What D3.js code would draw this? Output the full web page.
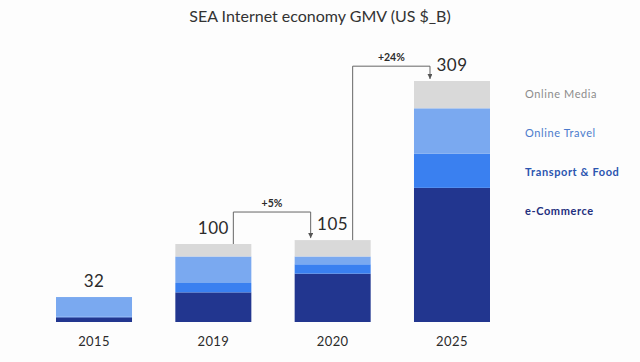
<!DOCTYPE html>
<html>
<head>
<meta charset="utf-8">
<script src="https://cdn.jsdelivr.net/npm/d3@7"></script>
<style>
  html, body { margin: 0; padding: 0; background: #fdfdfd; }
  svg { display: block; font-family: Lato, "Open Sans", sans-serif; }
</style>
</head>
<body>
<div class="canvas"></div>
<script>
// data (US $ billions)
const years = ['2015', '2019', '2020', '2025'];
const categories = ['e-Commerce', 'Transport & Food', 'Online Travel', 'Online Media'];
const eCommerce = [6, 38, 62, 172];
const transportFood = [1, 12, 12, 44];
const onlineTravel = [25, 34, 10, 58];
const onlineMedia = [0, 16, 21, 35];
const totals = [32, 100, 105, 309];
const growth = [
    { from: '2019', to: '2020', label: '+5%', level: 141 },
    { from: '2020', to: '2025', label: '+24%', level: 328 }
];

const WIDTH = 640;
const HEIGHT = 362;
const colors = ['#22368f', '#3a80f0', '#7aa9f0', '#d9d9d9'];
const legendColors = ['#1f2f7e', '#2b55b0', '#4b7bcc', '#8c8c8c'];

const rows = years.map((yr, i) => ({
    year: yr,
    'e-Commerce': eCommerce[i],
    'Transport & Food': transportFood[i],
    'Online Travel': onlineTravel[i],
    'Online Media': onlineMedia[i],
    total: totals[i]
}));

const svg = d3.select('.canvas')
    .append('svg')
    .attr('width', WIDTH)
    .attr('height', HEIGHT);

// small arrow head for the growth brackets (points along the path)
svg.append('defs').append('marker')
    .attr('id', 'arrow')
    .attr('viewBox', '0 0 6 6')
    .attr('refX', 6)
    .attr('refY', 3)
    .attr('markerWidth', 5)
    .attr('markerHeight', 5)
    .attr('orient', 'auto')
    .append('path')
    .attr('d', 'M0,0 L6,3 L0,6 Z')
    .attr('fill', '#555');

const x = d3.scaleBand()
    .domain(years)
    .range([34.35, 511.65])
    .paddingInner(0.363)
    .paddingOuter(0.1815);

const y = d3.scaleLinear()
    .domain([0, 309])
    .range([322, 81]);

// title
svg.append('text')
    .attr('x', 320)
    .attr('y', 22)
    .attr('text-anchor', 'middle')
    .attr('font-size', 16)
    .attr('fill', '#333')
    .text('SEA Internet economy GMV (US $_B)');

// stacked bars
const stack = d3.stack().keys(categories);
const layers = svg.append('g')
    .selectAll('g')
    .data(stack(rows))
    .enter()
    .append('g')
    .attr('fill', (d, i) => colors[i]);

layers.selectAll('rect')
    .data(d => d)
    .enter()
    .append('rect')
    .attr('x', d => x(d.data.year))
    .attr('width', x.bandwidth())
    .attr('y', d => y(d[1]))
    .attr('height', d => y(d[0]) - y(d[1]));

// totals above the bars
svg.append('g')
    .selectAll('text')
    .data(rows)
    .enter()
    .append('text')
    .attr('x', d => x(d.year) + x.bandwidth() / 2)
    .attr('y', d => y(d.total) - 10)
    .attr('text-anchor', 'middle')
    .attr('font-size', 17)
    .attr('letter-spacing', 0.5)
    .attr('fill', '#2b2b2b')
    .text(d => d.total);

// year labels
const xAxis = svg.append('g')
    .attr('transform', 'translate(0, 322)')
    .call(d3.axisBottom(x).tickSize(0).tickPadding(15));
xAxis.select('.domain').remove();
xAxis.selectAll('text')
    .attr('font-family', 'Lato, sans-serif')
    .attr('font-size', 13)
    .attr('letter-spacing', 0.4)
    .attr('fill', '#2b2b2b');

// growth brackets
const totalOf = yr => rows.find(r => r.year === yr).total;
const brackets = svg.append('g');
growth.forEach(g => {
    const x1 = x(g.from) + x.bandwidth() / 2 + 20;
    const x2 = x(g.to) + x.bandwidth() / 2 - 22;
    const ly = y(g.level);
    brackets.append('path')
        .attr('d', `M${x1},${y(totalOf(g.from))} V${ly} H${x2} V${y(totalOf(g.to)) - 2}`)
        .attr('fill', 'none')
        .attr('stroke', '#666')
        .attr('stroke-width', 1)
        .attr('marker-end', 'url(#arrow)');
    brackets.append('text')
        .attr('x', (x1 + x2) / 2)
        .attr('y', ly - 5)
        .attr('text-anchor', 'middle')
        .attr('font-size', 10.5)
        .attr('font-weight', 'bold')
        .attr('fill', '#2b2b2b')
        .text(g.label);
});

// legend
const legendOrder = categories.slice().reverse();
svg.append('g')
    .selectAll('text')
    .data(legendOrder)
    .enter()
    .append('text')
    .attr('x', 525)
    .attr('y', (d, i) => 98 + i * 39)
    .attr('font-size', 11)
    .attr('letter-spacing', 0.6)
    .attr('font-weight', d => (d === 'e-Commerce' || d === 'Transport & Food') ? 'bold' : 'normal')
    .attr('fill', d => legendColors[categories.indexOf(d)])
    .text(d => d);
</script>
</body>
</html>
